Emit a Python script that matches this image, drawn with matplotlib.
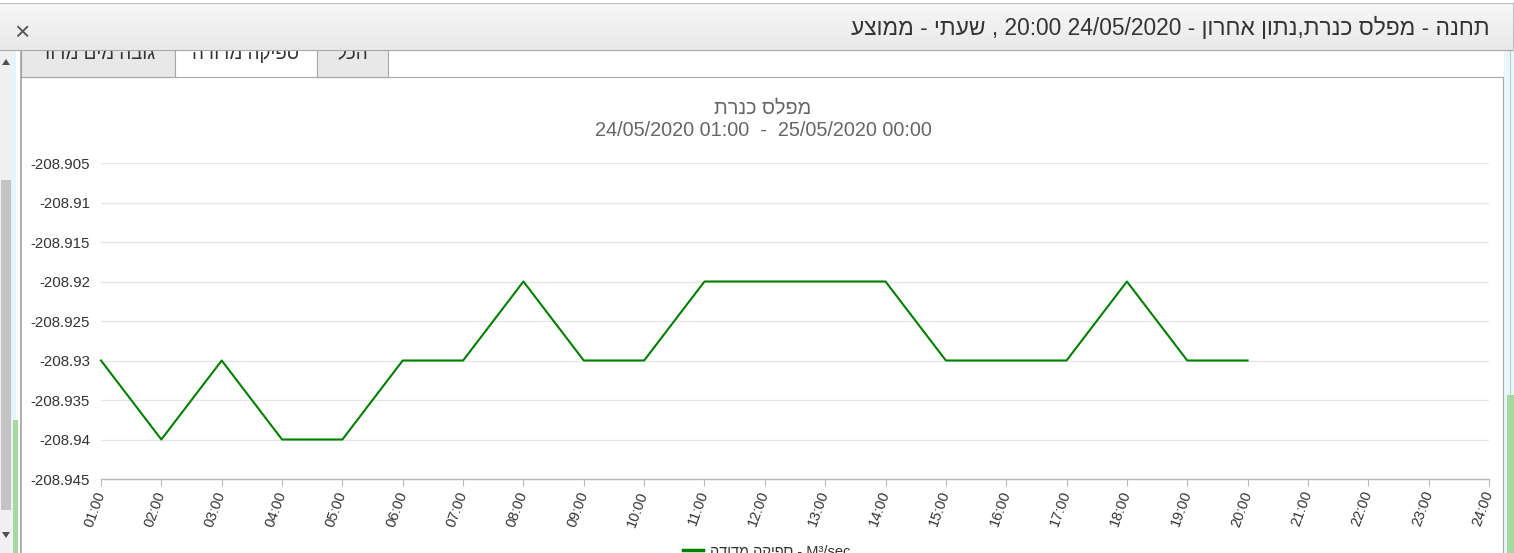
import re
import numpy as np
import matplotlib
matplotlib.use("Agg")
import matplotlib.pyplot as plt
from matplotlib.patches import Rectangle, Polygon

plt.rcParams['font.family'] = ['Liberation Sans', 'DejaVu Sans']

# data
hours = [1, 2, 3, 4, 5, 6, 7, 8, 9, 10, 11, 12, 13, 14, 15, 16, 17, 18, 19, 20]
level = [-208.93, -208.94, -208.93, -208.94, -208.94, -208.93, -208.93, -208.92,
         -208.93, -208.93, -208.92, -208.92, -208.92, -208.92, -208.93, -208.93,
         -208.93, -208.92, -208.93, -208.93]
x_ticks = list(range(1, 25))
x_labels = ["%02d:00" % h for h in x_ticks]
y_ticks = [-208.945, -208.94, -208.935, -208.93, -208.925, -208.92, -208.915, -208.91, -208.905]

header = "תחנה - מפלס כנרת,נתון אחרון - 20:00 24/05/2020 , שעתי - ממוצע"
tabs = ["גובה מים מדוד", "ספיקה מדודה", "הכל"]
title = "מפלס כנרת"
subtitle = "24/05/2020 01:00  -  25/05/2020 00:00"
series_name = "ספיקה מדודה"
unit = " - M³/sec"


def rtl(s):
    # matplotlib has no bidi: flip the string, then flip number runs back
    r = s[::-1]
    return re.sub(r"[0-9][0-9/:. ]*[0-9]", lambda m: m.group(0)[::-1], r)


W, H = 1514, 553
fig = plt.figure(figsize=(W / 100, H / 100), dpi=100)
fig.patch.set_facecolor("white")

# ---- window chrome, in pixel coords
ui = fig.add_axes([0, 0, 1, 1])
ui.set_xlim(0, W)
ui.set_ylim(H, 0)
ui.axis("off")

# left scrollbar
ui.add_patch(Rectangle((0, 50), 12, 503, fc="#f0f0f0", ec="none", zorder=1))
ui.add_patch(Rectangle((1, 180), 10, 330, fc="#c3c3c3", ec="none", zorder=2))
ui.add_patch(Polygon([[2, 65], [10, 65], [6, 59]], fc="#505050", ec="none", zorder=2))
ui.add_patch(Polygon([[2, 532], [10, 532], [6, 538]], fc="#505050", ec="none", zorder=2))
ui.add_patch(Rectangle((12, 50), 4, 503, fc="#e4f6fb", ec="none", zorder=1))
ui.add_patch(Rectangle((13, 420), 5, 133, fc="#a6d99c", ec="none", zorder=1))

# right edge
ui.add_patch(Rectangle((1504, 50), 10, 503, fc="#e8f7fa", ec="none", zorder=1))
ui.add_patch(Rectangle((1507, 395), 7, 158, fc="#a6d99c", ec="none", zorder=1))
ui.plot([1510, 1510], [50, 395], color="#c8c8c8", lw=0.8, zorder=2)

# tabs
tab_x = [(21, 175), (175, 317), (317, 388)]
tab_fc = ["#e8e8e8", "white", "#e8e8e8"]
for (x0, x1), fc, t in zip(tab_x, tab_fc, tabs):
    ui.add_patch(Rectangle((x0, 40), x1 - x0, 37, fc=fc, ec="#a8a8a8", lw=0.8, zorder=3))
    ui.text((x0 + x1) / 2, 59, rtl(t), fontsize=13.5, color="#333333",
            ha="center", va="baseline", zorder=4)
ui.plot([21, 175], [77, 77], color="#a8a8a8", lw=0.8, zorder=4)
ui.plot([317, 1503], [77, 77], color="#a8a8a8", lw=0.8, zorder=4)
ui.plot([21, 21], [50, 553], color="#a0a0a0", lw=1.2, zorder=4)
ui.plot([1503, 1503], [77, 553], color="#a8a8a8", lw=0.8, zorder=4)

# header bar (drawn over the tab text tops)
grad = np.linspace(0, 1, 50).reshape(-1, 1)
ui.imshow(grad, extent=[0, 1513, 50, 3], cmap=matplotlib.colors.LinearSegmentedColormap.from_list(
    "hdr", ["#f7f7f7", "#e9e9e9"]), aspect="auto", zorder=5)
ui.plot([0, 1513], [3, 3], color="#c0c0c0", lw=0.8, zorder=6)
ui.plot([0, 1513], [50, 50], color="#a8a8a8", lw=0.8, zorder=6)
ui.plot([1513, 1513], [3, 50], color="#c0c0c0", lw=0.8, zorder=6)
ui.text(1490, 28, rtl(header), fontsize=16.4, color="#333333",
        ha="right", va="center", zorder=7)
ui.text(22, 33, "×", fontsize=19, color="#555555", ha="center", va="center", zorder=7)

# chart titles and legend
ui.text(763, 108, rtl(title), fontsize=14.3, color="#666666", ha="center", va="center", zorder=3)
ui.text(763, 131, subtitle, fontsize=14.3, color="#666666", ha="center", va="center", zorder=3)
ui.plot([683, 703], [550, 550], color="#008000", lw=2.5, zorder=3)
ui.text(710, 545, rtl(series_name) + unit, fontsize=10.5, color="#333333",
        ha="left", va="top", zorder=3)

# ---- the chart itself
left, right, top, bottom = 101, 1489, 163, 479
ax = fig.add_axes([left / W, (H - bottom) / H, (right - left) / W, (bottom - top) / H])
ax.set_facecolor("none")
ax.plot(hours, level, color="#008000", lw=1.5, clip_on=False, zorder=3)

ax.set_xlim(1, 24)
ax.set_ylim(-208.945, -208.905)
ax.set_yticks(y_ticks)
ax.set_yticklabels(["{:g}".format(v) for v in y_ticks])
ax.set_xticks(x_ticks)
ax.set_xticklabels(x_labels, rotation=70, ha="right", va="center", rotation_mode="anchor")

ax.grid(axis="y", color="#e6e6e6", lw=0.9)
ax.grid(axis="x", visible=False)
for s in ["top", "right", "left"]:
    ax.spines[s].set_visible(False)
ax.spines["bottom"].set_color("#b8b8b8")
ax.spines["bottom"].set_linewidth(1.0)
ax.tick_params(axis="y", length=0, pad=8, labelsize=10.8, labelcolor="#333333")
ax.tick_params(axis="x", length=5, width=0.8, color="#b8b8b8", pad=4,
               labelsize=10.5, labelcolor="#333333")

fig.savefig("out.png", dpi=100)
